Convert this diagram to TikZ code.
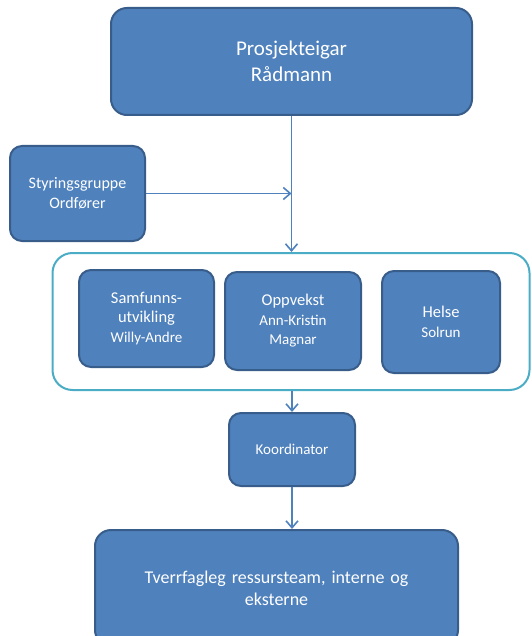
\documentclass[tikz,border=0pt]{standalone}
\usepackage{fontspec}
\setmainfont{Carlito}
\usetikzlibrary{arrows.meta}
\definecolor{boxfill}{HTML}{4F81BD}
\definecolor{boxdraw}{HTML}{385D8A}
\definecolor{frame}{HTML}{4BACC6}
\newcommand{\fs}[2]{\fontsize{#1}{#2}\selectfont}
\tikzset{
  blk/.style={draw=boxdraw, line width=2pt, fill=boxfill, rounded corners=12pt,
    text=white, align=center, inner sep=0pt},
  conn/.style={draw=boxfill, line width=1.6pt, -{Straight Barb[length=7pt,width=12pt,line width=1.6pt]}},
}
\begin{document}
\begin{tikzpicture}[x=1pt,y=-1pt]
\useasboundingbox (0,0) rectangle (531,636);
\node[blk, minimum width=361pt, minimum height=107pt, rounded corners=16pt,
  font=\fs{21}{26}] (top) at (291.5,61.5) {Prosjekteigar\\Rådmann};
\node[blk, minimum width=135pt, minimum height=95pt,
  font=\fs{16}{20}] (styr) at (77.5,193.5) {Styringsgruppe\\Ordfører};
\node[draw=frame, line width=2pt, rounded corners=20pt, minimum width=477pt,
  minimum height=137pt, inner sep=0pt] (cont) at (291,321.5) {};
\node[blk, minimum width=135pt, minimum height=97pt,
  font=\fs{16.5}{19.5}] (samf) at (146.5,318.5) {Samfunns-\\utvikling\\{\fs{15}{19.5}Willy-Andre}};
\node[blk, minimum width=136pt, minimum height=98pt,
  font=\fs{16.5}{19.5}] (oppv) at (293,321) {Oppvekst\\{\fs{15}{19.5}Ann-Kristin}\\{\fs{15}{19.5}Magnar}};
\node[blk, minimum width=118pt, minimum height=102pt,
  font=\fs{16.5}{20}] (hels) at (441,322) {Helse\\{\fs{15}{20}Solrun}};
\node[blk, minimum width=126pt, minimum height=73pt,
  font=\fs{15}{18}] (koord) at (292,449.5) {Koordinator};
\node[blk, minimum width=363pt, minimum height=116pt, rounded corners=16pt, text width=320pt,
  font=\fs{18}{22}] (tverr) at (276.5,588) {Tverrfagleg ressursteam, interne og\\eksterne\\[10pt]};
\draw[conn] (top.south) -- (top.south |- cont.north);
\draw[conn] (styr.east) -- (styr.east -| top.south);
\draw[conn] (cont.south -| koord.north) -- (koord.north);
\draw[conn] (koord.south) -- (koord.south |- tverr.north);
\end{tikzpicture}
\end{document}
